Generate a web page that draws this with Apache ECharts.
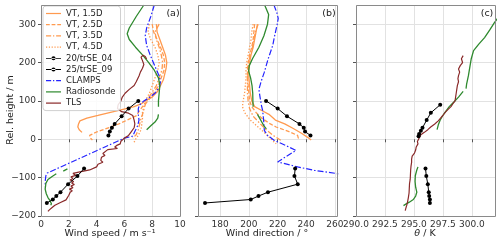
<!DOCTYPE html>
<html><head><meta charset="utf-8">
<script src="https://cdn.jsdelivr.net/npm/echarts@6/dist/echarts.min.js"></script>
<style>html,body{margin:0;padding:0;background:#fff}#c{width:500px;height:243px}</style>
</head><body><div id="c"></div><script>
// ---------- DATA ----------
// Virtual towers, wind speed (panel a)
const vt15_ws_h = [300,280,260,240,220,200,185,170,155,140,125,110,100,92,85,78,70,62,55,48,40,32,25,18];
const vt15_ws   = [8.3,8.35,8.55,8.75,8.95,9.05,9.0,8.9,8.8,8.6,8.4,8.0,7.5,7.2,6.7,5.9,5.0,4.1,3.3,2.8,2.7,2.65,2.75,2.95];
const vt25_ws_h = [300,280,260,240,220,200,180,160,140,120,100,85,70,62,50,40,32,25,19,10,3,-2];
const vt25_ws   = [8.0,8.1,8.35,8.6,8.8,8.9,8.85,8.65,8.45,8.1,7.7,7.3,7.0,6.9,6.2,5.6,5.0,4.5,4.0,3.5,3.55,3.7];
const vt35_ws_h = [300,280,260,240,220,200,180,160,140,120,100,85,70,55,40,25,12,3];
const vt35_ws   = [8.5,8.2,8.3,8.5,8.65,8.75,8.7,8.5,8.3,7.95,7.6,7.45,7.35,7.2,7.1,7.0,6.85,6.6];
const vt45_ws_h = [300,280,260,240,220,200,180,160,140,120,100,85,70,55,40,25,10,0,-8];
const vt45_ws   = [7.8,7.7,7.9,8.2,8.4,8.5,8.4,8.2,8.0,7.8,7.5,7.4,7.3,7.3,7.25,7.2,7.0,6.8,6.7];
// Virtual towers, wind direction (panel b)
const vt15_wd_h = [300,280,260,240,220,200,180,160,140,120,100,85,75,65,50,40,28,15,5,-2];
const vt15_wd   = [206,205,204,203,201.5,200.5,200,200,200.5,201,202,204,209,214,218.5,225,231,237,241,243.5];
const vt25_wd_h = [300,280,260,240,220,200,180,160,140,120,100,85,70,55,40,32,20,10,3,-2];
const vt25_wd   = [204,203.5,203,202,200.5,199.5,199,199,199.5,200,200.5,202,205,209,215,219,228,234,234.5,234];
const vt35_wd_h = [300,280,260,240,220,200,180,160,140,120,100,80,60,40,25,10,-3];
const vt35_wd   = [206.5,204.5,203.5,202.5,201,200,199.5,199,199,199,199.5,200.5,203,208,212,217,222.5];
const vt45_wd_h = [300,280,260,240,220,200,180,160,140,120,100,85,70,50,30,10,-5,-12];
const vt45_wd   = [203,202,201.5,200.5,199.5,198.5,198,198,197.5,197,196,195.5,197,201,207,213,217,219];
// UAV profiles
const uav04_h  = [10,20,30,40,60,80,100];
const uav04_ws = [4.85,4.95,5.1,5.3,5.8,6.3,7.0];
const uav04_wd = [243,239.2,238.3,235.3,226.6,220.1,212];
const uav04_th_h = [8,14,22,30,50,69,90];
const uav04_th = [295.4,295.45,295.6,295.74,296.1,296.46,297.27];
const uav09_h  = [-76,-96,-117,-138,-148,-157,-166];
const uav09_ws = [3.1,2.62,1.95,1.4,1.1,0.85,0.42];
const uav09_wd = [232.3,231.8,234.1,213.3,206.7,201.3,169.4];
const uav09_th = [296.0,296.07,296.2,296.28,296.32,296.38,296.38];
// CLAMPS
const clamps_ws_h = [350,320,290,270,245,220,190,165,150,135,120,110,100,90,80,65,50,35,20,8,3,-88,-95,-110,-125];
const clamps_ws   = [8.15,7.9,7.6,7.5,7.6,7.85,8.2,8.5,8.6,8.5,8.2,7.85,7.4,7.1,7.0,7.0,7.05,6.95,6.75,6.6,6.0,0.45,0.35,0.3,0.32];
const clamps_wd_h = [350,330,315,300,270,244,210,175,150,130,110,88,75,50,23,10,-3,-15,-29,-45,-59,-72,-81,-89,-100,-125];
const clamps_wd   = [217.5,219.5,220.5,219.8,218,216.6,213.5,210.8,208.5,207,207.8,208.8,209.6,210.3,210.8,213,217.8,225,232.9,226,220.1,234,245.7,260.9,272,280];
// Radiosonde
const sonde_ws_h1 = [350,320,290,275,260,240,220,200,180,160,140,120,100,85];
const sonde_ws1   = [7.4,6.85,6.35,6.2,6.35,6.8,7.3,7.75,8.15,8.45,8.55,8.5,8.45,8.45];
const sonde_ws_h2 = [65,55,45,35,25];
const sonde_ws2   = [8.45,8.4,8.2,7.9,7.6];
const sonde_ws_h3 = [-83,-77];
const sonde_ws3   = [1.6,1.9];
const sonde_ws_h4 = [-90,-97,-105,-115,-130,-142,-152,-160,-168,-172];
const sonde_ws4   = [1.1,0.8,0.5,0.35,0.3,0.38,0.5,0.65,0.75,0.7];
const sonde_wd_h1 = [350,325,300,270,240,210,192,178,160,140,120,100,85];
const sonde_wd1   = [211,213.8,213,210.5,207,202.5,200.3,199.8,201.2,202.2,202.7,202.8,203];
const sonde_wd_h2 = [65,55,45,35,27];
const sonde_wd2   = [206,207.5,209,210.5,212.2];
const sonde_th_h1 = [350,325,304,285,265,248,231,210,187,165,144,132];
const sonde_th1   = [303.1,302.45,301.95,301.55,301.1,300.6,300.15,299.95,299.82,299.7,299.55,299.5];
const sonde_th_h2 = [125,110,97,85,71,60,49,37,25];
const sonde_th2   = [299.25,298.85,298.45,298.05,297.7,297.45,297.25,297.1,297.0];
const sonde_th_h3 = [-72,-80,-95,-110,-125,-138,-148,-157,-164,-169,-173];
const sonde_th3   = [295.35,295.25,295.12,295.1,295.15,295.25,295.15,294.95,294.6,294.3,294.1];
// TLS
const tls_ws_h = [209,216,219,214,205,195,185,175,165,150,140,130,120,110,100,90,80,72,68,62,50,40,30,20,10,3,-5,-12,-16,-20,-24,-27,-32,-37,-42,-47,-55,-60,-65,-72,-80,-85,-89,-94,-98,-102,-106,-110,-114,-118,-122,-126,-130,-134,-138,-142,-146,-150,-158,-165,-172,-178,-184,-188];
const tls_ws   = [7.6,7.5,7.35,7.2,7.3,7.4,7.3,7.15,7.05,6.85,6.7,6.35,6.05,5.85,5.75,5.55,5.5,5.8,6.3,6.6,6.7,6.75,6.7,6.5,6.3,6.0,5.75,5.7,5.45,5.3,5.5,4.8,4.9,4.45,4.6,4.35,4.3,4.45,4.1,4.0,3.5,2.8,2.3,2.5,2.15,2.3,2.1,2.35,2.2,2.4,2.15,2.3,2.05,2.25,2.1,2.2,2.0,2.05,1.8,1.4,1.0,0.8,0.6,0.5];
const tls_th_h = [218,210,200,192,183,175,166,158,150,140,130,120,110,100,92,85,78,70,62,55,48,40,32,25,18,12,6,0,-6,-12,-20,-28,-36,-44,-52,-60,-70,-80,-92,-104,-116,-128,-140,-152,-163,-172,-180,-186];
const tls_th   = [299.25,299.1,299.2,299.0,298.85,298.95,298.85,298.8,298.85,298.75,298.7,298.65,298.6,298.55,298.35,298.2,297.95,297.7,297.5,297.3,297.1,296.8,296.45,296.2,295.9,295.6,295.5,295.4,295.3,295.35,295.2,295.15,295.05,294.85,294.8,294.8,294.75,294.72,294.7,294.68,294.62,294.6,294.58,294.52,294.45,294.38,294.3,294.25];
// Ticks
const yTicks = [-200,-100,0,100,200,300];
const wsTicks = [0,2,4,6,8,10];
const wdTicks = [180,200,220,240,260];
const thTicks = [290,292.5,295,297.5,300];
const legendNames = ['VT, 1.5D','VT, 2.5D','VT, 3.5D','VT, 4.5D','20/trSE_04','25/trSE_09','CLAMPS','Radiosonde','TLS'];

// ---------- CHART ----------
const FONT = 'DejaVu Sans';
const ORANGE = '#ff9a4f', BLUE = '#2424ff', GREEN = '#2f8a2f', BROWN = '#8a2a2a', BLACK = '#000';
const FRAME = '#8a8a8a', GRIDC = '#e2e2e2';
const panels = [
  {left:41, width:139, min:0, max:10, ticks:wsTicks, fmt:v=>String(v)},
  {left:198, width:139, min:164.5, max:261.5, ticks:wdTicks, fmt:v=>String(v)},
  {left:356, width:139, min:290, max:302, ticks:thTicks, fmt:v=>v.toFixed(1)}
];
const TOP = 5, HEIGHT = 211;

// legend icons (line-style glyphs)
const ICON_SOLID = 'path://M0,0h16v1.3h-16z';
const ICON_DASH = 'path://M0,0h4v1.3h-4zM6,0h4v1.3h-4zM12,0h4v1.3h-4z';
const ICON_DASHDOT = 'path://M0,0h5.5v1.3h-5.5zM7.5,0h1.3v1.3h-1.3zM10.8,0h5.2v1.3h-5.2z';
const ICON_DOT = 'path://M0,0h1.3v1.3h-1.3zM3,0h1.3v1.3h-1.3zM6,0h1.3v1.3h-1.3zM9,0h1.3v1.3h-1.3zM12,0h1.3v1.3h-1.3zM14.7,0h1.3v1.3h-1.3z';
const ICON_MARK = 'path://M0,1.75h16v0.9h-16zM5.8,2.2a2.2,2.2 0 1,0 4.4,0a2.2,2.2 0 1,0 -4.4,0z';

const styles = {
  'VT, 1.5D': {color:ORANGE, width:1.3, type:'solid', icon:ICON_SOLID},
  'VT, 2.5D': {color:ORANGE, width:1.3, type:[4,2], icon:ICON_DASH},
  'VT, 3.5D': {color:ORANGE, width:1.3, type:[5,2,1.5,2], icon:ICON_DASHDOT},
  'VT, 4.5D': {color:ORANGE, width:1.3, type:[1.3,1.8], icon:ICON_DOT},
  '20/trSE_04': {color:BLACK, width:1, type:'solid', marker:true, icon:ICON_MARK},
  '25/trSE_09': {color:BLACK, width:1, type:'solid', marker:true, icon:ICON_MARK},
  'CLAMPS': {color:BLUE, width:1.2, type:[6,2,1.5,2], icon:ICON_DASHDOT},
  'Radiosonde': {color:GREEN, width:1.3, type:'solid', icon:ICON_SOLID},
  'TLS': {color:BROWN, width:1.2, type:'solid', icon:ICON_SOLID}
};
function line(name, panel, hs, vs) {
  const s = styles[name];
  return {
    type:'line', name, xAxisIndex:panel, yAxisIndex:panel,
    data: hs.map((h,i)=>[vs[i], h]),
    symbol: s.marker ? 'circle' : 'none', symbolSize: 4, showSymbol: !!s.marker,
    lineStyle:{color:s.color, width:s.width, type:s.type},
    itemStyle:{color:s.color},
    animation:false, clip:true, silent:true,
    z: s.marker ? 5 : 3
  };
}
const series = [
  line('VT, 1.5D',0,vt15_ws_h,vt15_ws), line('VT, 2.5D',0,vt25_ws_h,vt25_ws),
  line('VT, 3.5D',0,vt35_ws_h,vt35_ws), line('VT, 4.5D',0,vt45_ws_h,vt45_ws),
  line('20/trSE_04',0,uav04_h,uav04_ws), line('25/trSE_09',0,uav09_h,uav09_ws),
  line('CLAMPS',0,clamps_ws_h,clamps_ws),
  line('Radiosonde',0,sonde_ws_h1,sonde_ws1), line('Radiosonde',0,sonde_ws_h2,sonde_ws2),
  line('Radiosonde',0,sonde_ws_h3,sonde_ws3), line('Radiosonde',0,sonde_ws_h4,sonde_ws4),
  line('TLS',0,tls_ws_h,tls_ws),
  line('VT, 1.5D',1,vt15_wd_h,vt15_wd), line('VT, 2.5D',1,vt25_wd_h,vt25_wd),
  line('VT, 3.5D',1,vt35_wd_h,vt35_wd), line('VT, 4.5D',1,vt45_wd_h,vt45_wd),
  line('20/trSE_04',1,uav04_h,uav04_wd), line('25/trSE_09',1,uav09_h,uav09_wd),
  line('CLAMPS',1,clamps_wd_h,clamps_wd),
  line('Radiosonde',1,sonde_wd_h1,sonde_wd1), line('Radiosonde',1,sonde_wd_h2,sonde_wd2),
  line('20/trSE_04',2,uav04_th_h,uav04_th), line('25/trSE_09',2,uav09_h,uav09_th),
  line('Radiosonde',2,sonde_th_h1,sonde_th1), line('Radiosonde',2,sonde_th_h2,sonde_th2),
  line('Radiosonde',2,sonde_th_h3,sonde_th3),
  line('TLS',2,tls_th_h,tls_th)
];

const tickLabel = {fontFamily:FONT, fontSize:9, color:'#333'};
const option = {
  backgroundColor:'#fff',
  animation:false,
  grid: panels.map(p=>({left:p.left, top:TOP, width:p.width, height:HEIGHT, containLabel:false})),
  xAxis: panels.map((p,i)=>({
    type:'value', gridIndex:i, min:p.min, max:p.max,
    axisLine:{show:false},
    axisTick:{show:true, length:3, lineStyle:{color:'#555'}, customValues:p.ticks},
    axisLabel:{show:true, margin:4, ...tickLabel, customValues:p.ticks, formatter:p.fmt},
    splitLine:{show:true, lineStyle:{color:GRIDC, width:1}}
  })),
  yAxis: panels.map((p,i)=>({
    type:'value', gridIndex:i, min:-200, max:350,
    axisLine:{show:false},
    axisTick:{show:true, length:3, lineStyle:{color:'#555'}, customValues:yTicks},
    axisLabel:{show:i===0, margin:5, ...tickLabel, customValues:yTicks, formatter:v=>String(v).replace('-','\u2212')},
    splitLine:{show:true, lineStyle:{color:GRIDC, width:1}}
  })),
  legend:{
    show:true, orient:'vertical', left:43, top:6, itemWidth:15, itemHeight:8, itemGap:2.2,
    padding:[3,5,3,3], backgroundColor:'rgba(255,255,255,0.85)', borderColor:'#d0d0d0', borderWidth:1, borderRadius:3,
    textStyle:{fontFamily:FONT, fontSize:8.5, color:'#222', lineHeight:8},
    data: legendNames.map(n=>({name:n, icon:styles[n].icon})),
    selectedMode:false, z:20
  },
  series,
  graphic: [
    ...panels.map(p=>({type:'rect', z:50, silent:true, shape:{x:p.left+0.5, y:TOP+0.5, width:p.width, height:HEIGHT}, style:{fill:null, stroke:FRAME, lineWidth:1}})),
    {type:'text', z:60, x:11, y:110, rotation:Math.PI/2, style:{text:'Rel. height / m', font:'9.5px "DejaVu Sans"', fill:'#222', textAlign:'center', textVerticalAlign:'middle'}},
    {type:'text', z:60, x:110, y:234, style:{text:'Wind speed / m s\u207B\u00B9', font:'9.5px "DejaVu Sans"', fill:'#222', textAlign:'center', textVerticalAlign:'middle'}},
    {type:'text', z:60, x:267, y:234, style:{text:'Wind direction / \u00B0', font:'9.5px "DejaVu Sans"', fill:'#222', textAlign:'center', textVerticalAlign:'middle'}},
    {type:'text', z:60, x:425, y:234, style:{text:'{i|\u03B8} / K', rich:{i:{fontStyle:'italic', fontFamily:FONT, fontSize:9.5, fill:'#222'}}, font:'9.5px "DejaVu Sans"', fill:'#222', textAlign:'center', textVerticalAlign:'middle'}},
    {type:'text', z:60, x:173, y:14, style:{text:'(a)', font:'9.5px "DejaVu Sans"', fill:'#222', textAlign:'center', textVerticalAlign:'middle'}},
    {type:'text', z:60, x:329, y:14, style:{text:'(b)', font:'9.5px "DejaVu Sans"', fill:'#222', textAlign:'center', textVerticalAlign:'middle'}},
    {type:'text', z:60, x:487, y:14, style:{text:'(c)', font:'9.5px "DejaVu Sans"', fill:'#222', textAlign:'center', textVerticalAlign:'middle'}}
  ]
};
const chart = echarts.init(document.getElementById('c'), null, {renderer:'canvas', width:500, height:243});
chart.setOption(option);
</script></body></html>
